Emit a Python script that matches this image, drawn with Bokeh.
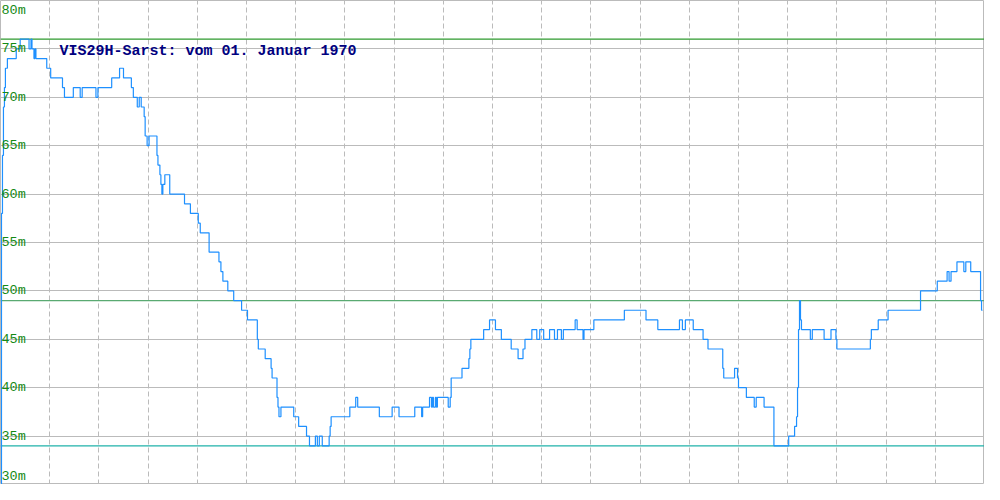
from bokeh.plotting import figure
from bokeh.models import FixedTicker, ColumnDataSource, Label, Span
from bokeh.core.properties import value
from bokeh.embed import file_html
from bokeh.resources import INLINE

# time index (sample number) at which the level changes
t = [0, 1, 2, 3, 4, 5, 7, 16, 20, 29, 31, 32, 34, 35, 36, 47, 51, 63, 65, 74,
     81, 83, 97, 99, 113, 121, 125, 133, 135, 139, 141, 143, 146, 147, 149, 151,
     159, 160, 162, 163, 164, 165, 167, 172, 187, 193, 201, 203, 212, 222, 224,
     226, 231, 237, 245, 251, 261, 262, 269, 275, 276, 281, 282, 283, 285, 298,
     303, 311, 314, 320, 322, 324, 327, 334, 335, 336, 355, 361, 363, 385, 398,
     405, 421, 428, 429, 436, 438, 439, 440, 442, 443, 444, 455, 457, 458, 469,
     476, 477, 478, 491, 497, 503, 509, 519, 526, 531, 533, 540, 545, 548, 552,
     558, 563, 566, 570, 572, 584, 586, 592, 593, 603, 634, 656, 668, 690, 693,
     696, 704, 714, 719, 734, 735, 746, 749, 750, 758, 766, 768, 776, 786, 801,
     807, 809, 810, 811, 812, 813, 814, 823, 825, 837, 844, 849, 850, 884, 885,
     892, 902, 935, 952, 962, 964, 966, 972, 979, 981, 986, 996, 997, 998]
# water level in metres from that sample on
level = [30, 58, 64, 69, 71, 73, 74, 75, 76, 75, 76, 75, 74, 75, 74, 73, 72, 71, 70, 71,
         70, 71, 70, 71, 72, 73, 72, 71, 70, 69, 70, 69, 68, 66, 65, 66,
         64, 63, 62, 61, 60, 61, 62, 60, 59, 58, 57, 56, 54, 53, 52,
         51, 50, 49, 48, 47, 45, 44, 43, 42, 41, 39, 38, 37, 38, 37,
         36, 35, 34, 35, 34, 35, 34, 35, 36, 37, 38, 39, 38, 37, 38,
         37, 38, 37, 38, 39, 38, 39, 38, 39, 38, 39, 38, 39, 41, 42,
         43, 44, 45, 46, 47, 46, 45, 44, 43, 44, 45, 46, 45, 46, 45,
         46, 45, 46, 45, 46, 47, 46, 45, 46, 47, 48, 47, 46, 47, 46,
         47, 46, 45, 44, 42, 41, 42, 41, 40, 39, 38, 39, 38, 34, 35,
         36, 37, 40, 46, 49, 47, 46, 45, 46, 45, 46, 45, 44, 45, 46,
         47, 48, 50, 51, 52, 51, 52, 53, 52, 53, 52, 49, 48, 48]

tick_values = [80, 75, 70, 65, 60, 55, 50, 45, 40, 35, 30]
tick_labels = ["80m", "75m", "70m", "65m", "60m", "55m", "50m", "45m", "40m", "35m", "30m"]
vgrid_ticks = list(range(0, 1001, 50))
ref_levels = [76, 49, 34]
ref_colors = ["#2E9A2E", "#5AAA72", "#20B2AA"]
title_text = "VIS29H-Sarst: vom 01. Januar 1970"

p = figure(width=984, height=484, x_range=(0, 1000), y_range=(30, 80),
           output_backend="svg", toolbar_location=None, min_border=0,
           x_axis_location=None, y_axis_location=None,
           background_fill_color="white", border_fill_color="white")
p.outline_line_color = "#BBBBBB"
p.outline_line_width = 1

p.xgrid.ticker = FixedTicker(ticks=vgrid_ticks)
p.xgrid.grid_line_color = "#BBBBBB"
p.xgrid.grid_line_dash = "5 3"
p.xgrid.grid_line_width = 1
p.ygrid.ticker = FixedTicker(ticks=tick_values)
p.ygrid.grid_line_color = "#BBBBBB"
p.ygrid.grid_line_width = 1

for lvl, col in zip(ref_levels, ref_colors):
    p.add_layout(Span(location=lvl, dimension="width", line_color=col,
                      line_width=1.2, level="underlay"))

p.step(t, level, mode="after", line_color="#1E90FF", line_width=1.2)

baselines = ["top" if v == max(tick_values) else ("bottom" if v == min(tick_values) else "middle")
             for v in tick_values]
yoffs = [2 if b == "top" else (-1 if b == "bottom" else 0) for b in baselines]
src = ColumnDataSource(dict(x=[0] * len(tick_values), y=tick_values, text=tick_labels,
                            base=baselines, yo=yoffs))
p.text(x="x", y="y", text="text", source=src, text_baseline="base", y_offset="yo",
       x_offset=1, text_font=value("Liberation Mono"), text_font_size="13.5px",
       text_color="#158A15")

p.add_layout(Label(x=60, y=74.7, text=title_text, text_font="Liberation Mono",
                   text_font_style="bold", text_font_size="15px", text_color="#000080",
                   text_baseline="alphabetic"))

open("out.html", "w").write(file_html(p, INLINE))
